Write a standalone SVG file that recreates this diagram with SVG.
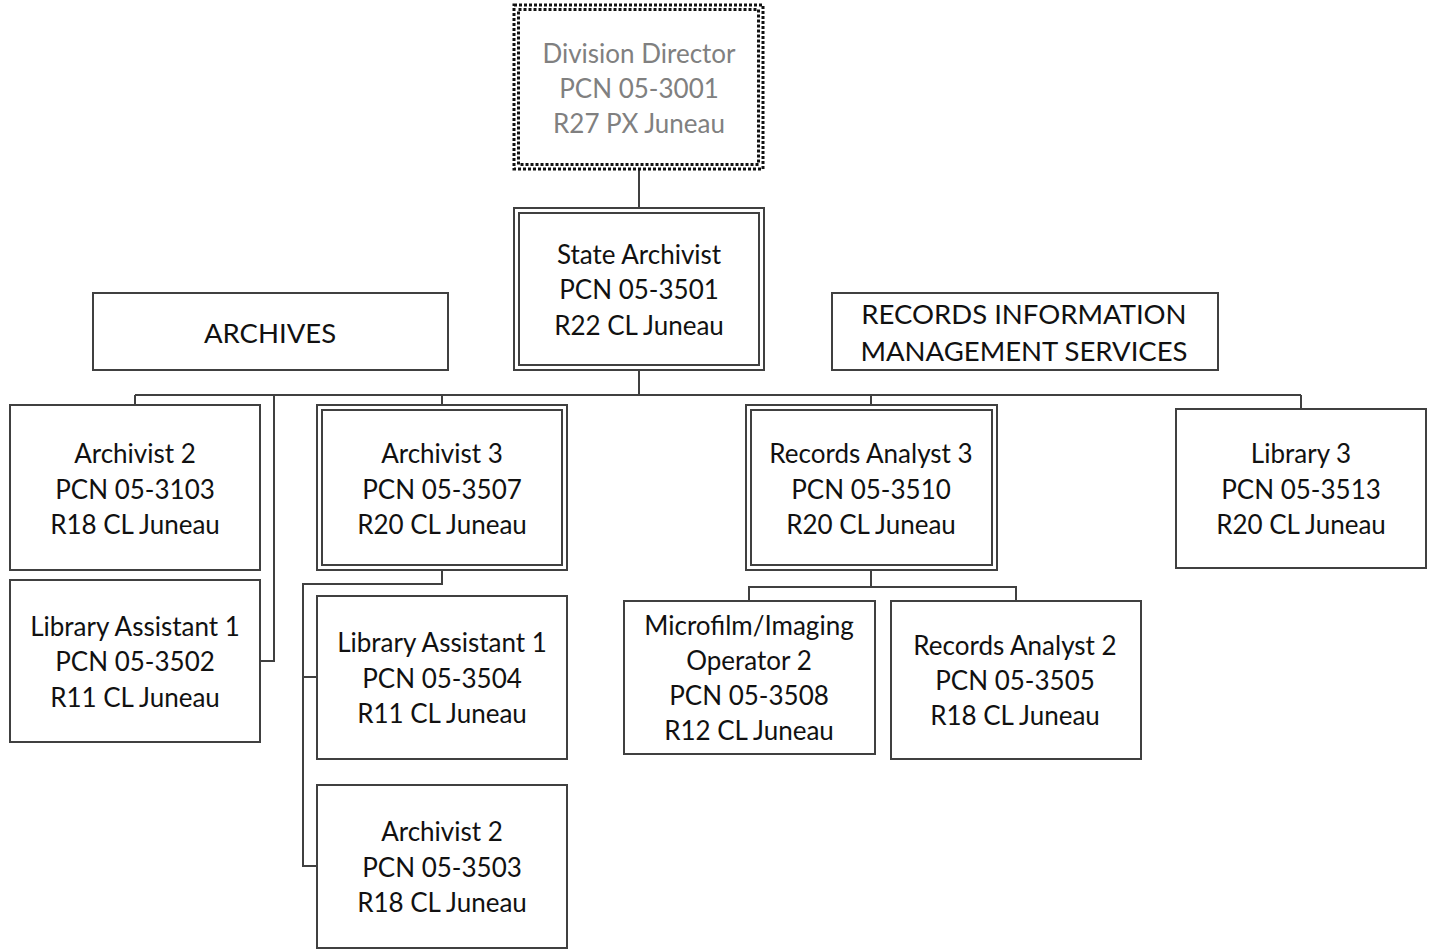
<svg xmlns="http://www.w3.org/2000/svg" width="1431" height="950" viewBox="0 0 1431 950">
<style>
.box{fill:#fff;stroke:#404040;stroke-width:2}
.dot{fill:none;stroke:#111;stroke-width:3;stroke-dasharray:3 2}
.ln{fill:none;stroke:#404040;stroke-width:2}
text{font-family:Lato,"Liberation Sans",sans-serif;font-size:26px;fill:#111;text-anchor:middle;dominant-baseline:central}
.gray{fill:#808080}
.cap{font-size:27.5px}
</style>
<rect width="1431" height="950" fill="#fff"/>
<g id="connectors">
<path class="ln" d="M639 170V208M639 370V395M135 395H1301M135 395V405M274 395V661H260M442 395V405M871 395V405M1301 395V409"/>
<path class="ln" d="M442 570V584H303V866H317M303 677H317"/>
<path class="ln" d="M871 570V587H749V601M871 587H1016V601"/>
</g>
<g id="director">
<rect x="514" y="5" width="249" height="164" fill="#fff" class="dot"/>
<rect x="518.5" y="9.5" width="240" height="155" class="dot"/>
<text class="gray" x="639" y="53">Division Director</text>
<text class="gray" x="639" y="88">PCN 05-3001</text>
<text class="gray" x="639" y="123">R27 PX Juneau</text>
</g>
<g id="state-archivist">
<rect class="box" x="514" y="208" width="250" height="162"/>
<rect class="box" x="519" y="213" width="240" height="152"/>
<text x="639" y="254">State Archivist</text>
<text x="639" y="289">PCN 05-3501</text>
<text x="639" y="325">R22 CL Juneau</text>
</g>
<g id="archives">
<rect class="box" x="93" y="293" width="355" height="77"/>
<text class="cap" x="270" y="332">ARCHIVES</text>
</g>
<g id="rims">
<rect class="box" x="832" y="293" width="386" height="77"/>
<text class="cap" x="1024" y="313">RECORDS INFORMATION</text>
<text class="cap" x="1024" y="350">MANAGEMENT SERVICES</text>
</g>
<g id="archivist2-3103">
<rect class="box" x="10" y="405" width="250" height="165"/>
<text x="135" y="453">Archivist 2</text>
<text x="135" y="489">PCN 05-3103</text>
<text x="135" y="524">R18 CL Juneau</text>
</g>
<g id="libasst1-3502">
<rect class="box" x="10" y="580" width="250" height="162"/>
<text x="135" y="626">Library Assistant 1</text>
<text x="135" y="661">PCN 05-3502</text>
<text x="135" y="697">R11 CL Juneau</text>
</g>
<g id="archivist3-3507">
<rect class="box" x="317" y="405" width="250" height="165"/>
<rect class="box" x="322" y="410" width="240" height="155"/>
<text x="442" y="453">Archivist 3</text>
<text x="442" y="489">PCN 05-3507</text>
<text x="442" y="524">R20 CL Juneau</text>
</g>
<g id="libasst1-3504">
<rect class="box" x="317" y="596" width="250" height="163"/>
<text x="442" y="642">Library Assistant 1</text>
<text x="442" y="678">PCN 05-3504</text>
<text x="442" y="713">R11 CL Juneau</text>
</g>
<g id="archivist2-3503">
<rect class="box" x="317" y="785" width="250" height="163"/>
<text x="442" y="831">Archivist 2</text>
<text x="442" y="867">PCN 05-3503</text>
<text x="442" y="902">R18 CL Juneau</text>
</g>
<g id="ra3-3510">
<rect class="box" x="746" y="405" width="251" height="165"/>
<rect class="box" x="751" y="410" width="241" height="155"/>
<text x="871" y="453">Records Analyst 3</text>
<text x="871" y="489">PCN 05-3510</text>
<text x="871" y="524">R20 CL Juneau</text>
</g>
<g id="micro-3508">
<rect class="box" x="624" y="601" width="251" height="153"/>
<text x="749" y="625">Microfilm/Imaging</text>
<text x="749" y="660">Operator 2</text>
<text x="749" y="695">PCN 05-3508</text>
<text x="749" y="730">R12 CL Juneau</text>
</g>
<g id="ra2-3505">
<rect class="box" x="891" y="601" width="250" height="158"/>
<text x="1015" y="645">Records Analyst 2</text>
<text x="1015" y="680">PCN 05-3505</text>
<text x="1015" y="715">R18 CL Juneau</text>
</g>
<g id="library3-3513">
<rect class="box" x="1176" y="409" width="250" height="159"/>
<text x="1301" y="453">Library 3</text>
<text x="1301" y="489">PCN 05-3513</text>
<text x="1301" y="524">R20 CL Juneau</text>
</g>
</svg>
